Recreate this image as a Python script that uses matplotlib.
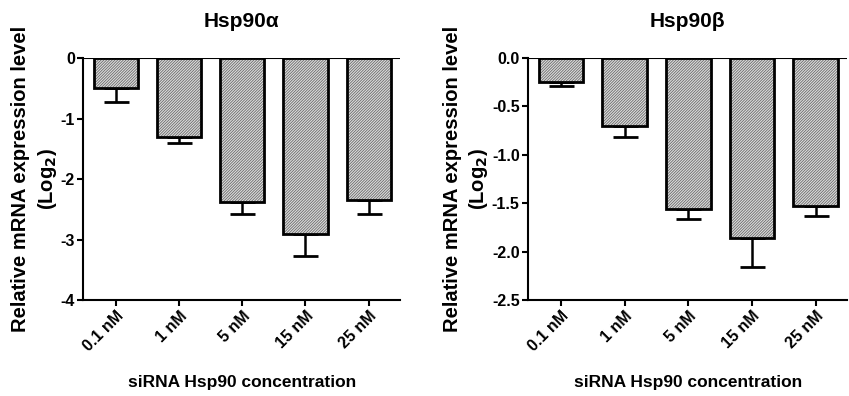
"""
Relative Hsp90 mRNA expression after siRNA knockdown, two isoforms side by side.
"""
import numpy as np
import matplotlib
matplotlib.use("Agg")
from matplotlib import pyplot as plt

plt.rcParams['font.family'] = ['Liberation Sans', 'DejaVu Sans']
plt.rcParams['font.weight'] = 'bold'
plt.rcParams['hatch.linewidth'] = 0.6

concentrations = ['0.1 nM', '1 nM', '5 nM', '15 nM', '25 nM']

alpha_mean = [-0.50, -1.30, -2.38, -2.91, -2.34]
alpha_err = [0.23, 0.11, 0.19, 0.36, 0.23]

beta_mean = [-0.25, -0.70, -1.56, -1.86, -1.53]
beta_err = [0.04, 0.12, 0.10, 0.30, 0.10]

alpha_ticks = [0, -1, -2, -3, -4]
beta_ticks = [0.0, -0.5, -1.0, -1.5, -2.0, -2.5]


def draw_panel(ax, means, errs, title, yticks, fmt):
    x = np.arange(len(concentrations))
    # hatched fill in grey, then a black outline on top
    ax.bar(x, means, width=0.7, color='#dedede', edgecolor='#6a6a6a',
           linewidth=0, hatch='////////////', zorder=2)
    ax.bar(x, means, width=0.7, fill=False, edgecolor='black',
           linewidth=2.0, zorder=3)
    ax.errorbar(x, means, yerr=[errs, [0]*len(errs)], fmt='none',
                ecolor='black', elinewidth=1.8, capsize=9, capthick=2.0,
                zorder=1)
    ax.axhline(0, color='black', linewidth=1.5, zorder=4)

    ax.set_xlim(-0.52, 4.5)
    ax.set_ylim(min(yticks), max(yticks))
    ax.set_yticks(yticks)
    ax.set_yticklabels([fmt.format(t) for t in yticks])
    ax.set_xticks(x)
    ax.set_xticklabels(concentrations, rotation=45, ha='right',
                       rotation_mode='anchor')

    for side in ('top', 'right'):
        ax.spines[side].set_visible(False)
    for side in ('left', 'bottom'):
        ax.spines[side].set_linewidth(1.5)
    ax.tick_params(width=1.5, length=4, labelsize=11.5, pad=2)

    ax.set_title(title, fontsize=15, fontweight='bold', pad=22)
    ax.set_xlabel('siRNA Hsp90 concentration', fontsize=12.5,
                  fontweight='bold', labelpad=15)
    ax.set_ylabel('Relative mRNA expression level\n(Log$_\\mathbf{2}$)',
                  fontsize=14.5, fontweight='bold', linespacing=1.35,
                  labelpad=1)


def plot():
    fig = plt.figure(figsize=(8.49, 3.96), dpi=100)
    ax1 = fig.add_axes([0.098, 0.2424, 0.3734, 0.611])
    ax2 = fig.add_axes([0.622, 0.2424, 0.376, 0.611])

    draw_panel(ax1, alpha_mean, alpha_err, 'Hsp90\u03b1', alpha_ticks, '{:.0f}')
    draw_panel(ax2, beta_mean, beta_err, 'Hsp90\u03b2', beta_ticks, '{:.1f}')

    fig.savefig('out.png', dpi=100)


if __name__ == '__main__':
    plot()
